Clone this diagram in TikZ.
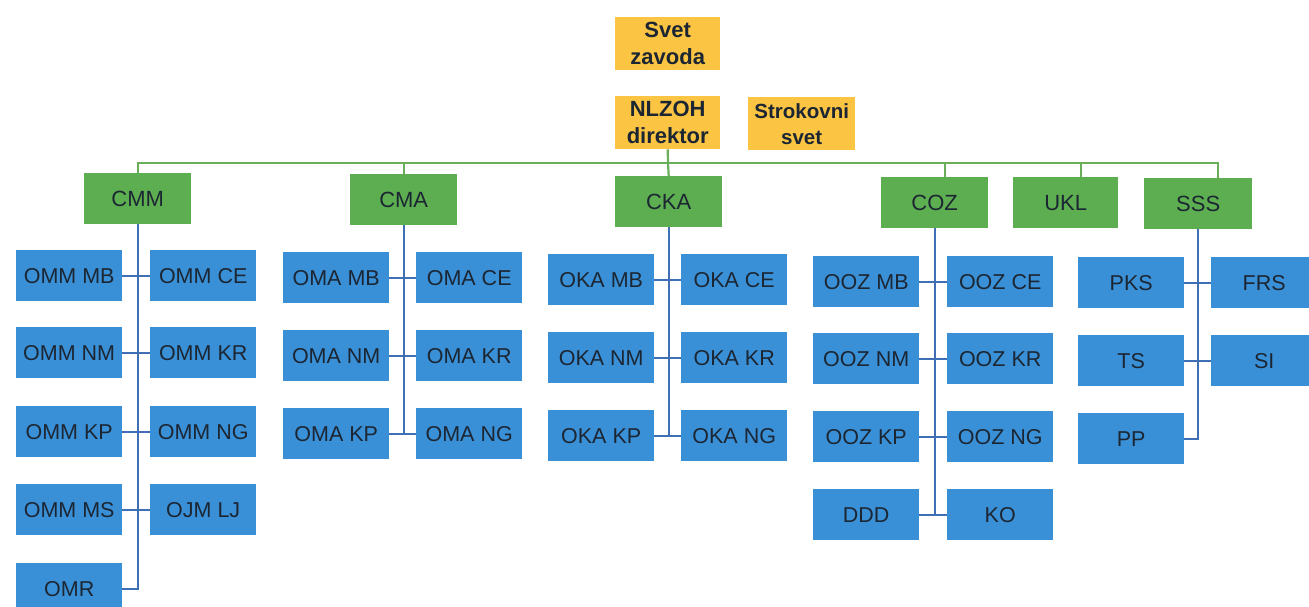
\documentclass[tikz,border=0pt]{standalone}
\usepackage{fontspec}
\setmainfont{Liberation Sans}
\definecolor{boxblue}{HTML}{3A90D6}
\definecolor{boxgreen}{HTML}{5DAE50}
\definecolor{boxyellow}{HTML}{FBC543}
\definecolor{txt}{HTML}{1C2633}
\definecolor{lineblue}{HTML}{3F6FB5}
\definecolor{linegreen}{HTML}{6AAE5A}
\tikzset{
  box/.style={rectangle, inner sep=0pt, minimum width=106pt, minimum height=51pt, anchor=north west, text=txt, font=\fontsize{21.5}{23}\selectfont},
  bluebox/.style={box, fill=boxblue},
  greenbox/.style={box, fill=boxgreen, minimum width=107pt, font=\fontsize{22}{24}\selectfont},
  yellowbox/.style={box, fill=boxyellow, minimum width=105pt, minimum height=53pt, align=center, font=\bfseries\fontsize{22}{27}\selectfont},
  bline/.style={draw=lineblue, line width=2.2pt},
  gline/.style={draw=linegreen, line width=2.2pt}
}
\begin{document}
\begin{tikzpicture}[x=1pt,y=-1pt]
\useasboundingbox (0,0) rectangle (1309,606);
\clip (0,0) rectangle (1309,606);
% top
\node[yellowbox] (svet) at (615,17) {Svet\\zavoda};
\node[yellowbox] (dir) at (615,96) {NLZOH\\direktor};
\node[yellowbox, minimum width=107pt, font=\bfseries\fontsize{20.5}{26}\selectfont] (stro) at (748,97) {Strokovni\\svet};
% centres
\node[greenbox] (cmm) at (84,173) {CMM};
\node[greenbox] (cma) at (350,174) {CMA};
\node[greenbox] (cka) at (615,176) {CKA};
\node[greenbox] (coz) at (881,177) {COZ};
\node[greenbox, minimum width=105pt] (ukl) at (1013,177) {UKL};
\node[greenbox, minimum width=108pt] (sss) at (1144,178) {SSS};
% bus
\coordinate (bus) at (668,163);
\draw[gline] (dir.south) -- (bus);
\draw[gline] (bus) -| (cmm.north);
\draw[gline] (bus) -| (cma.north);
\draw[gline] (bus) -- (cka.north);
\draw[gline] (bus) -| ([xshift=10pt]coz.north);
\draw[gline] (bus) -| ([xshift=15pt]ukl.north);
\draw[gline] (bus) -| ([xshift=20pt]sss.north);
% CMM
\node[bluebox] (ommmb) at (16,250) {OMM MB};
\node[bluebox] (ommce) at (150,250) {OMM CE};
\node[bluebox] (ommnm) at (16,327) {OMM NM};
\node[bluebox] (ommkr) at (150,327) {OMM KR};
\node[bluebox] (ommkp) at (16,406) {OMM KP};
\node[bluebox] (ommng) at (150,406) {OMM NG};
\node[bluebox] (ommms) at (16,484) {OMM MS};
\node[bluebox] (ojmlj) at (150,484) {OJM LJ};
\node[bluebox] (omr) at (16,563) {OMR};
\draw[bline] (cmm.south) |- (omr.east);
\draw[bline] (ommmb.east) -- (ommce.west);
\draw[bline] (ommnm.east) -- (ommkr.west);
\draw[bline] (ommkp.east) -- (ommng.west);
\draw[bline] (ommms.east) -- (ojmlj.west);
% CMA
\node[bluebox] (omamb) at (283,252) {OMA MB};
\node[bluebox] (omace) at (416,252) {OMA CE};
\node[bluebox] (omanm) at (283,330) {OMA NM};
\node[bluebox] (omakr) at (416,330) {OMA KR};
\node[bluebox] (omakp) at (283,408) {OMA KP};
\node[bluebox] (omang) at (416,408) {OMA NG};
\draw[bline] (cma.south) -- (cma.south |- omakp.east);
\draw[bline] (omamb.east) -- (omace.west);
\draw[bline] (omanm.east) -- (omakr.west);
\draw[bline] (omakp.east) -- (omang.west);
% CKA
\node[bluebox] (okamb) at (548,254) {OKA MB};
\node[bluebox] (okace) at (681,254) {OKA CE};
\node[bluebox] (okanm) at (548,332) {OKA NM};
\node[bluebox] (okakr) at (681,332) {OKA KR};
\node[bluebox] (okakp) at (548,410) {OKA KP};
\node[bluebox] (okang) at (681,410) {OKA NG};
\draw[bline] (cka.south) -- (cka.south |- okakp.east);
\draw[bline] (okamb.east) -- (okace.west);
\draw[bline] (okanm.east) -- (okakr.west);
\draw[bline] (okakp.east) -- (okang.west);
% COZ
\node[bluebox] (oozmb) at (813,256) {OOZ MB};
\node[bluebox] (oozce) at (947,256) {OOZ CE};
\node[bluebox] (ooznm) at (813,333) {OOZ NM};
\node[bluebox] (oozkr) at (947,333) {OOZ KR};
\node[bluebox] (oozkp) at (813,411) {OOZ KP};
\node[bluebox] (oozng) at (947,411) {OOZ NG};
\node[bluebox] (ddd) at (813,489) {DDD};
\node[bluebox] (ko) at (947,489) {KO};
\draw[bline] (coz.south) -- (coz.south |- ddd.east);
\draw[bline] (oozmb.east) -- (oozce.west);
\draw[bline] (ooznm.east) -- (oozkr.west);
\draw[bline] (oozkp.east) -- (oozng.west);
\draw[bline] (ddd.east) -- (ko.west);
% SSS
\node[bluebox] (pks) at (1078,257) {PKS};
\node[bluebox] (frs) at (1211,257) {FRS};
\node[bluebox] (ts) at (1078,335) {TS};
\node[bluebox] (si) at (1211,335) {SI};
\node[bluebox] (pp) at (1078,413) {PP};
\draw[bline] (sss.south) |- (pp.east);
\draw[bline] (pks.east) -- (frs.west);
\draw[bline] (ts.east) -- (si.west);
\end{tikzpicture}
\end{document}
